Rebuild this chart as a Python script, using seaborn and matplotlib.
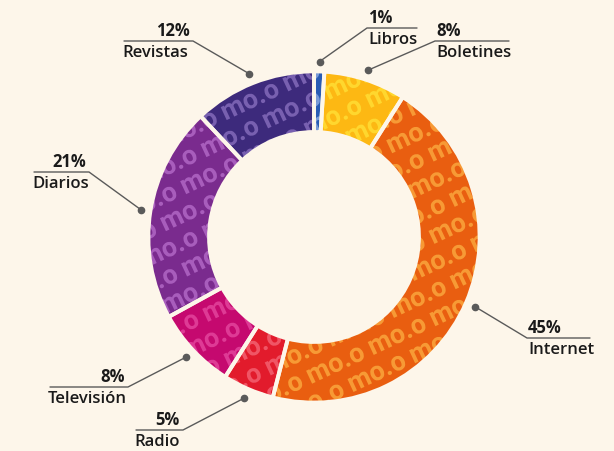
import numpy as np
import seaborn as sns
import matplotlib.pyplot as plt
from matplotlib.textpath import TextPath
from matplotlib.patches import PathPatch
from matplotlib.font_manager import FontProperties
from matplotlib.transforms import Affine2D

# data
categories = ["Libros", "Boletines", "Internet", "Radio", "Televisión", "Diarios", "Revistas"]
shares = [1, 8, 45, 5, 8, 21, 12]
pct_labels = ["1%", "8%", "45%", "5%", "8%", "21%", "12%"]

# style
colors = ["#2A5CB4", "#FDB813", "#E95E10", "#E21B2C", "#C5096F", "#7A2B8E", "#3D2A7C"]
tints = ["#7A9BD8", "#FFD72E", "#F79A35", "#F05565", "#DE3A95", "#A85DBC", "#7860B0"]
BG = "#FDF6EA"
INK = "#1A1A1A"
LINE = "#5A5A5A"

CX, CY, R = 314, 238, 164  # donut centre / radius in px
W, H = 614, 452


def to_data(px, py):
    return (px - CX) / R, (CY - py) / R


# label layout in px: elbow x, elbow y, end of the underline x
layout = {
    "Libros": (367, 29, 417),
    "Boletines": (435, 42, 509),
    "Internet": (527, 339, 590),
    "Radio": (183, 431, 136),
    "Televisión": (128, 388, 50),
    "Diarios": (89, 173, 34),
    "Revistas": (193, 42, 124),
}

sns.set_theme(style="white", rc={"figure.facecolor": BG, "axes.facecolor": BG})
plt.rcParams["font.family"] = ["Open Sans", "DejaVu Sans"]

fig = plt.figure(figsize=(W / 100, H / 100), dpi=100)
ax = fig.add_axes([0, 0, 1, 1])

pie_kw = dict(startangle=90, counterclock=False, radius=1.01)
wedges, _ = ax.pie(shares, colors=colors,
                   wedgeprops=dict(width=0.37, linewidth=0), **pie_kw)

# "mo.o" watermark pattern, clipped to each wedge
tp = TextPath((0, 0), "mo.o", size=27,
              prop=FontProperties(family=["Liberation Sans Narrow", "Roboto"], weight="bold"))
bb = tp.get_extents()
theta = np.deg2rad(25)
d = np.array([np.cos(theta), np.sin(theta)])
p = np.array([-np.sin(theta), np.cos(theta)])
grid = []
for i in range(-10, 11):
    for j in range(-7, 8):
        v = (j * 68 + (i % 2) * 34) * d + i * 25 * p
        r = np.hypot(*v) / R
        if 0.45 < r < 1.2:
            grid.append(v / R)

for w, tint in zip(wedges, tints):
    for gx, gy in grid:
        tr = (Affine2D().translate(-bb.x0 - bb.width / 2, -bb.y0 - bb.height / 2)
              .rotate_deg(25).scale(1 / R).translate(gx, gy))
        patch = PathPatch(tr.transform_path(tp), facecolor=tint, lw=0, zorder=2)
        ax.add_patch(patch)
        patch.set_clip_path(w)

# white gaps drawn on top of the pattern
gaps, _ = ax.pie(shares, colors=["none"] * len(shares),
                 wedgeprops=dict(width=0.37, edgecolor=BG, linewidth=2.8, zorder=3), **pie_kw)

# leader lines and labels
cum = np.cumsum([0] + shares[:-1])
total = sum(shares)
for name, pct, start, s in zip(categories, pct_labels, cum, shares):
    ang = np.deg2rad(90 - (start + s / 2) / total * 360)
    dx, dy = 1.07 * np.cos(ang), 1.07 * np.sin(ang)
    ex, ey, end = layout[name]
    exd, eyd = to_data(ex, ey)
    endd, _ = to_data(end, ey)
    ax.plot([dx, exd, endd], [dy, eyd, eyd], color=LINE, lw=1.0, zorder=4)
    ax.plot(dx, dy, "o", color=LINE, ms=4.5, zorder=5)
    if end > ex:
        tx, _ = to_data(ex + 1, ey)
        ax.text(tx, eyd + 2 / R, pct, ha="left", va="bottom", fontsize=12,
                fontweight="bold", color=INK)
        ax.text(tx, eyd - 3 / R, name, ha="left", va="top", fontsize=12,
                fontweight="semibold", color=INK)
    else:
        tx, _ = to_data(ex - 3, ey)
        sx, _ = to_data(end - 2, ey)
        ax.text(tx, eyd + 2 / R, pct, ha="right", va="bottom", fontsize=12,
                fontweight="bold", color=INK)
        ax.text(sx, eyd - 3 / R, name, ha="left", va="top", fontsize=12,
                fontweight="semibold", color=INK)

ax.set_aspect("auto")
ax.set_xlim(-CX / R, (W - CX) / R)
ax.set_ylim((CY - H) / R, CY / R)
ax.axis("off")

fig.savefig("out.png", dpi=100, facecolor=BG)
